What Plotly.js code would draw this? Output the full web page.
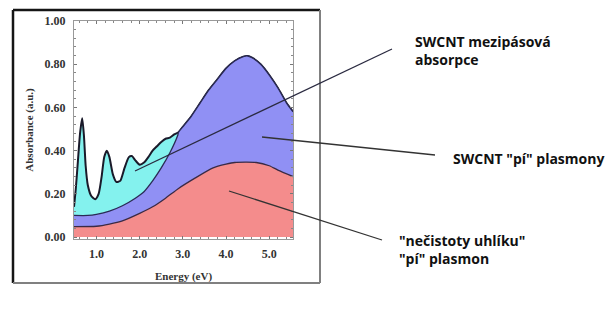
<!DOCTYPE html>
<html>
<head>
<meta charset="utf-8">
<script src="https://cdn.plot.ly/plotly-3.0.1.min.js"></script>
<style>html,body{margin:0;padding:0;background:#fff;}#chart{width:615px;height:327px;}</style>
</head>
<body>
<div id="chart"></div>
<script>
// Total absorbance (top curve: SWCNT interband + plasmons + carbon impurities)
var totalE = [0.48,0.52,0.57,0.62,0.67,0.71,0.75,0.80,0.88,0.97,1.05,1.12,1.18,1.24,1.30,1.38,1.46,1.55,1.65,1.75,1.82,1.90,2.00,2.10,2.20,2.30,2.40,2.50,2.60,2.70,2.80,2.90,3.00,3.20,3.40,3.60,3.80,4.00,4.20,4.40,4.50,4.60,4.80,5.00,5.20,5.40,5.55];
var totalA = [0.14,0.22,0.35,0.48,0.55,0.47,0.33,0.24,0.19,0.175,0.20,0.28,0.37,0.40,0.37,0.29,0.255,0.26,0.32,0.37,0.375,0.355,0.335,0.345,0.37,0.40,0.42,0.44,0.455,0.46,0.475,0.485,0.51,0.56,0.62,0.68,0.73,0.78,0.815,0.835,0.838,0.83,0.80,0.75,0.69,0.62,0.58];
// Boundary between interband (cyan) and SWCNT plasmon (blue) region
var blueE = [0.48,0.80,1.00,1.30,1.60,1.90,2.10,2.30,2.50,2.70,2.88];
var blueA = [0.10,0.10,0.105,0.12,0.145,0.18,0.21,0.26,0.32,0.39,0.47];
// Carbon impurity "pi" plasmon (pink) top
var pinkE = [0.48,1.00,1.30,1.60,2.00,2.30,2.60,2.90,3.30,3.70,4.00,4.20,4.70,5.00,5.20,5.55];
var pinkA = [0.048,0.05,0.06,0.075,0.11,0.14,0.18,0.225,0.275,0.32,0.337,0.345,0.345,0.33,0.31,0.28];

var xTickVals = [1,2,3,4,5];
var yTickVals = [0,0.2,0.4,0.6,0.8,1.0];
var labels = ['SWCNT mezipásová<br>absorpce', 'SWCNT "pí" plasmony', '"nečistoty uhlíku"<br>"pí" plasmon'];

// blue region upper edge continues along the total curve after the cyan region ends
var bx = blueE.slice(), by = blueA.slice();
for (var i = 0; i < totalE.length; i++) { if (totalE[i] > blueE[blueE.length-1]) { bx.push(totalE[i]); by.push(totalA[i]); } }

var L = 74, R = 293, T = 21, B = 239;
function px(x){ return (x - L) / (R - L); }
function py(y){ return (B - y) / (B - T); }

var traces = [
  {x: totalE, y: totalA, type:'scatter', mode:'lines', fill:'tozeroy', fillcolor:'#84F2EE',
   line:{color:'#1a1a2a', width:2, shape:'spline', smoothing:0.6}, hoverinfo:'skip'},
  {x: bx, y: by, type:'scatter', mode:'lines', fill:'tozeroy', fillcolor:'#9090F4',
   line:{color:'#2a2a55', width:1.3, shape:'spline', smoothing:0.6}, hoverinfo:'skip'},
  {x: pinkE, y: pinkA, type:'scatter', mode:'lines', fill:'tozeroy', fillcolor:'#F48C8C',
   line:{color:'#3a2a45', width:1.3, shape:'spline', smoothing:0.6}, hoverinfo:'skip'}
];

function seg(x0,y0,x1,y1,color,w){ return {type:'line', xref:'paper', yref:'paper', x0:px(x0), y0:py(y0), x1:px(x1), y1:py(y1), line:{color:color, width:w}}; }

var shapes = [
  seg(13,10,320,10,'#151515',2.5),
  seg(13,10,13,283,'#151515',2.5),
  seg(320,10,320,283,'#808080',2),
  seg(13,283,320,283,'#808080',2),
  seg(135,171,392,49,'#2a2a40',1.3),
  seg(262,137,435,155,'#333',1.3),
  seg(229,191,382,240,'#333',1.3)
];

var annFont = {family:'Open Sans, DejaVu Sans, sans-serif', size:14, color:'#111', weight:'bold'};
var annotations = [
  {xref:'paper', yref:'paper', x:px(413), y:py(50), xanchor:'left', yanchor:'middle', align:'left', showarrow:false, text:'<b>'+labels[0].replace('<br>','</b><br><b>')+'</b>', font:annFont},
  {xref:'paper', yref:'paper', x:px(451), y:py(158), xanchor:'left', yanchor:'middle', align:'left', showarrow:false, text:'<b>'+labels[1]+'</b>', font:annFont},
  {xref:'paper', yref:'paper', x:px(397), y:py(249), xanchor:'left', yanchor:'middle', align:'left', showarrow:false, text:'<b>'+labels[2].replace('<br>','</b><br><b>')+'</b>', font:annFont}
];

var tickFont = {family:'Liberation Serif, Times New Roman, serif', size:12, color:'#333', weight:'bold'};
var layout = {
  width:615, height:327,
  margin:{l:L, r:615-R, t:T, b:327-B, pad:0},
  paper_bgcolor:'#fff', plot_bgcolor:'#fff',
  showlegend:false,
  xaxis:{range:[0.48,5.55], tickvals:xTickVals, ticktext:xTickVals.map(function(v){return v.toFixed(1);}),
    showgrid:false, zeroline:false, showline:true, linecolor:'#999', linewidth:1, mirror:'allticks',
    ticks:'inside', ticklen:3, tickcolor:'#777', tickfont:tickFont, ticklabelstandoff:4,
    minor:{ticks:'inside', ticklen:2, tickcolor:'#888', dtick:0.2},
    title:{text:'<b>Energy (eV)</b>', font:{family:'Liberation Serif, serif', size:11, color:'#333'}, standoff:11}},
  yaxis:{range:[-0.009,1.0], tickvals:yTickVals, ticktext:yTickVals.map(function(v){return v.toFixed(2);}),
    showgrid:false, zeroline:false, showline:true, linecolor:'#999', linewidth:1, mirror:'allticks',
    ticks:'inside', ticklen:3, tickcolor:'#777', tickfont:tickFont, ticklabelstandoff:5,
    minor:{ticks:'inside', ticklen:2, tickcolor:'#888', dtick:0.04},
    title:{text:'<b>Absorbance (a.u.)</b>', font:{family:'Liberation Serif, serif', size:11, color:'#333'}, standoff:8}},
  shapes:shapes,
  annotations:annotations
};

Plotly.newPlot('chart', traces, layout, {displayModeBar:false, staticPlot:true});
</script>
</body>
</html>
